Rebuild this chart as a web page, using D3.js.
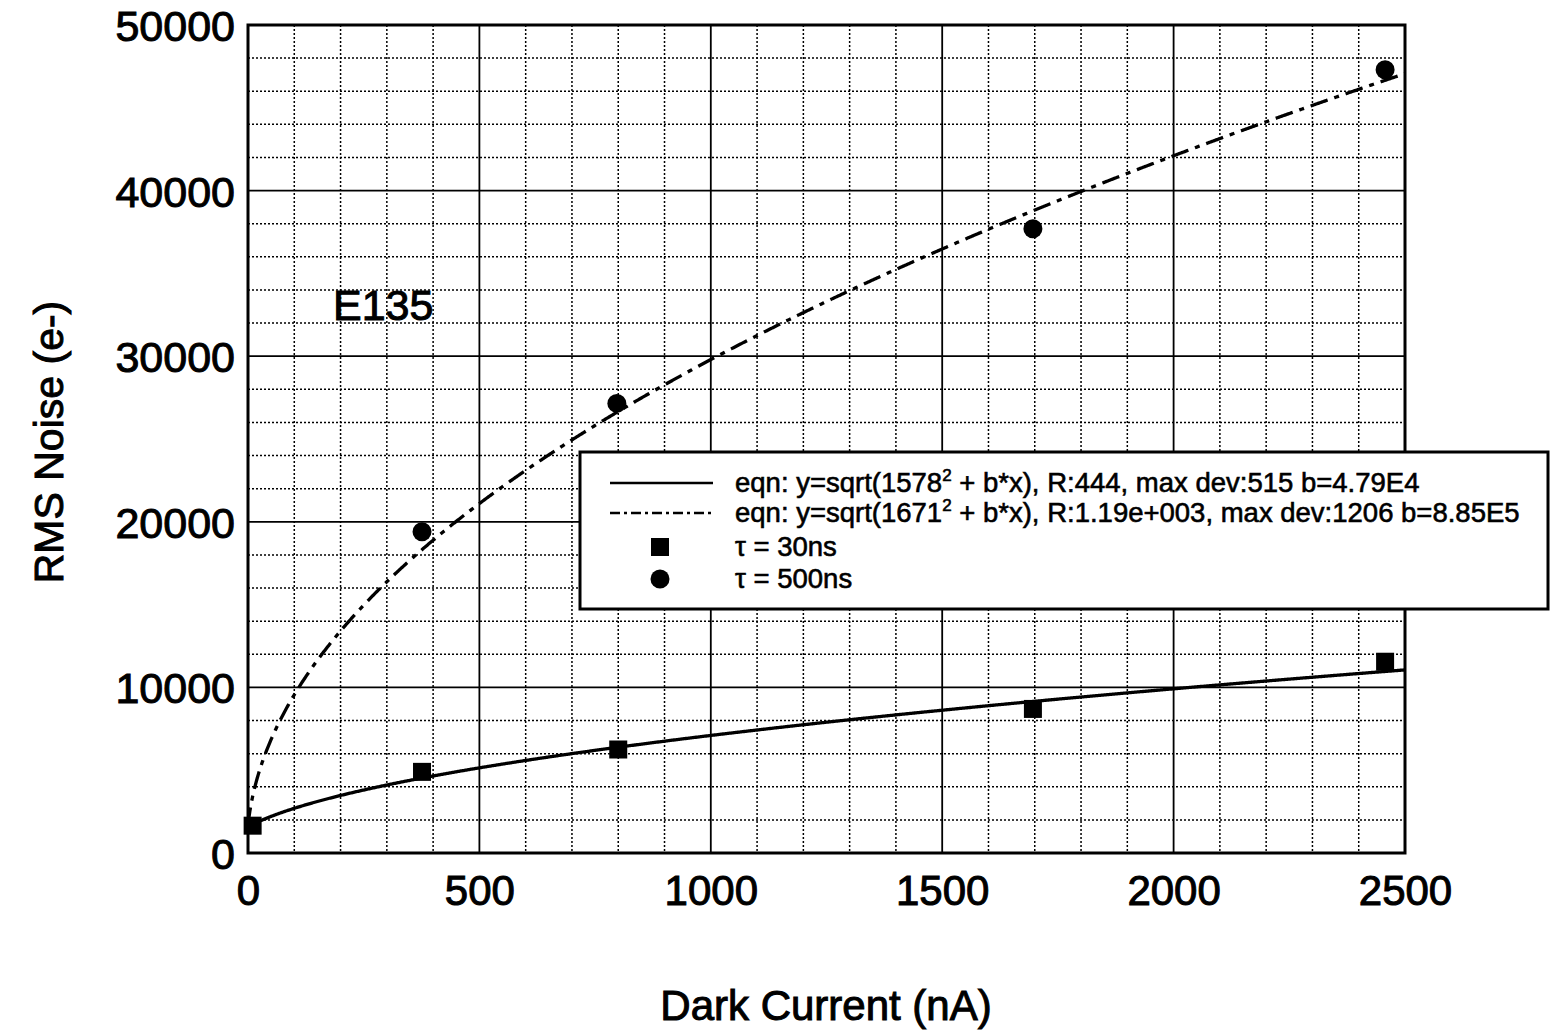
<!DOCTYPE html>
<html>
<head>
<meta charset="utf-8">
<script src="https://cdn.jsdelivr.net/npm/d3@7"></script>
<style>
  html, body { margin: 0; padding: 0; background: #fff; }
  svg { display: block; }
  text { font-family: Arial, "Liberation Sans", sans-serif; fill: #000; }
</style>
</head>
<body>
<svg id="chart" width="1551" height="1033"></svg>
<script>
// Measured RMS noise versus dark current, sample E135
const darkCurrent30 = [10, 376, 800, 1696, 2457];
const noise30 = [1650, 4900, 6250, 8700, 11550];
const darkCurrent500 = [376, 797, 1696, 2457];
const noise500 = [19400, 27150, 37700, 47300];

// Fit parameters y = sqrt(a^2 + b*x)
const fitA = [1578, 1671];
const fitB = [4.79e4, 8.85e5];
const fitLabels = [
  "R:444, max dev:515 b=4.79E4",
  "R:1.19e+003, max dev:1206 b=8.85E5"
];
const seriesLabels = ["\u03c4 = 30ns", "\u03c4 = 500ns"];

const xTicks = [0, 500, 1000, 1500, 2000, 2500];
const yTicks = [0, 10000, 20000, 30000, 40000, 50000];
const xMinor = d3.range(0, 2501, 100);
const yMinor = d3.range(0, 50001, 2000);

const svg = d3.select("#chart");
const L = 248, T = 25, R = 1405, B = 853;
const heavy = 1.0;

const x = d3.scaleLinear().domain([0, 2500]).range([L, R]);
const y = d3.scaleLinear().domain([0, 50000]).range([B, T]);

// Grid: dotted minor lines, solid major lines
const grid = svg.append("g");
grid.selectAll(".vmin").data(xMinor.filter(d => d % 500 !== 0)).join("line")
  .attr("x1", d => x(d)).attr("x2", d => x(d)).attr("y1", T).attr("y2", B)
  .attr("stroke", "#000").attr("stroke-width", 1.5).attr("stroke-dasharray", "2,2");
grid.selectAll(".hmin").data(yMinor.filter(d => d % 10000 !== 0)).join("line")
  .attr("y1", d => y(d)).attr("y2", d => y(d)).attr("x1", L).attr("x2", R)
  .attr("stroke", "#000").attr("stroke-width", 1.5).attr("stroke-dasharray", "2,2");
grid.selectAll(".vmaj").data(xTicks).join("line")
  .attr("x1", d => x(d)).attr("x2", d => x(d)).attr("y1", T).attr("y2", B)
  .attr("stroke", "#000").attr("stroke-width", 1.8);
grid.selectAll(".hmaj").data(yTicks).join("line")
  .attr("y1", d => y(d)).attr("y2", d => y(d)).attr("x1", L).attr("x2", R)
  .attr("stroke", "#000").attr("stroke-width", 1.8);

// Axis tick labels
const xAxis = d3.axisBottom(x).tickValues(xTicks).tickSize(0).tickPadding(22).tickFormat(d3.format("d"));
const yAxis = d3.axisLeft(y).tickValues(yTicks).tickSize(0).tickPadding(13).tickFormat(d3.format("d"));
const gx = svg.append("g").attr("transform", `translate(0,${B})`).call(xAxis);
const gy = svg.append("g").attr("transform", `translate(${L},0)`).call(yAxis);
[gx, gy].forEach(g => {
  g.select(".domain").remove();
  g.selectAll("text").attr("font-size", 42).attr("font-family", "Arial, 'Liberation Sans', sans-serif")
    .attr("fill", "#000").attr("stroke", "#000").attr("stroke-width", heavy);
});
gx.selectAll("text").attr("dy", "0.71em");
gy.selectAll("text").attr("dy", "0.36em").attr("font-size", 43);

// Fitted curves
svg.append("clipPath").attr("id", "plotClip")
  .append("rect").attr("x", L).attr("y", T).attr("width", R - L).attr("height", B - T);
const xs = d3.range(0, 2500.01, 2);
const fitLine = (a, b) => d3.line().x(d => x(d)).y(d => y(Math.sqrt(a * a + b * d)));
const dashes = [null, "18,7,5,7"];
const curves = svg.append("g").attr("clip-path", "url(#plotClip)");
fitA.forEach((a, i) => {
  curves.append("path").datum(xs)
    .attr("d", fitLine(a, fitB[i]))
    .attr("fill", "none").attr("stroke", "#000").attr("stroke-width", 3.3)
    .attr("stroke-dasharray", dashes[i]);
});

// Data markers
const sq = 18;
svg.append("g").selectAll("rect").data(d3.zip(darkCurrent30, noise30)).join("rect")
  .attr("x", d => x(d[0]) - sq / 2).attr("y", d => y(d[1]) - sq / 2)
  .attr("width", sq).attr("height", sq).attr("fill", "#000");
svg.append("g").selectAll("circle").data(d3.zip(darkCurrent500, noise500)).join("circle")
  .attr("cx", d => x(d[0])).attr("cy", d => y(d[1])).attr("r", 9.5).attr("fill", "#000");

// Plot frame
svg.append("rect").attr("x", L).attr("y", T).attr("width", R - L).attr("height", B - T)
  .attr("fill", "none").attr("stroke", "#000").attr("stroke-width", 3);

// Sample label
svg.append("text").attr("x", 333).attr("y", 320).attr("font-size", 43)
  .attr("stroke", "#000").attr("stroke-width", heavy).text("E135");

// Axis titles
svg.append("text").attr("x", 826).attr("y", 1020).attr("text-anchor", "middle")
  .attr("font-size", 42).attr("stroke", "#000").attr("stroke-width", heavy).text("Dark Current (nA)");
svg.append("text").attr("transform", "translate(63,442) rotate(-90)").attr("text-anchor", "middle")
  .attr("font-size", 41).attr("stroke", "#000").attr("stroke-width", heavy).text("RMS Noise (e-)");

// Legend
const lg = svg.append("g");
lg.append("rect").attr("x", 580).attr("y", 452).attr("width", 968).attr("height", 157)
  .attr("fill", "#fff").attr("stroke", "#000").attr("stroke-width", 3);
const rowY = [483, 513, 547, 579];
const fs = 27.5;
fitA.forEach((a, i) => {
  lg.append("line").attr("x1", 610).attr("x2", 713).attr("y1", rowY[i]).attr("y2", rowY[i])
    .attr("stroke", "#000").attr("stroke-width", 2.4).attr("stroke-dasharray", dashes[i] ? "10,4,3,4" : null);
  const t = lg.append("text").attr("x", 735).attr("y", rowY[i] + 9).attr("font-size", fs)
    .attr("stroke", "#000").attr("stroke-width", 0.6);
  t.append("tspan").text(`eqn: y=sqrt(${a}`);
  t.append("tspan").attr("dy", -11).attr("font-size", 17).text("2");
  t.append("tspan").attr("dy", 11).text(` + b*x), ${fitLabels[i]}`);
});
lg.append("rect").attr("x", 651).attr("y", rowY[2] - 9).attr("width", 18).attr("height", 18).attr("fill", "#000");
lg.append("circle").attr("cx", 660).attr("cy", rowY[3]).attr("r", 9.5).attr("fill", "#000");
seriesLabels.forEach((s, i) => {
  lg.append("text").attr("x", 735).attr("y", rowY[i + 2] + 9).attr("font-size", fs)
    .attr("stroke", "#000").attr("stroke-width", 0.6).text(s);
});
</script>
</body>
</html>
